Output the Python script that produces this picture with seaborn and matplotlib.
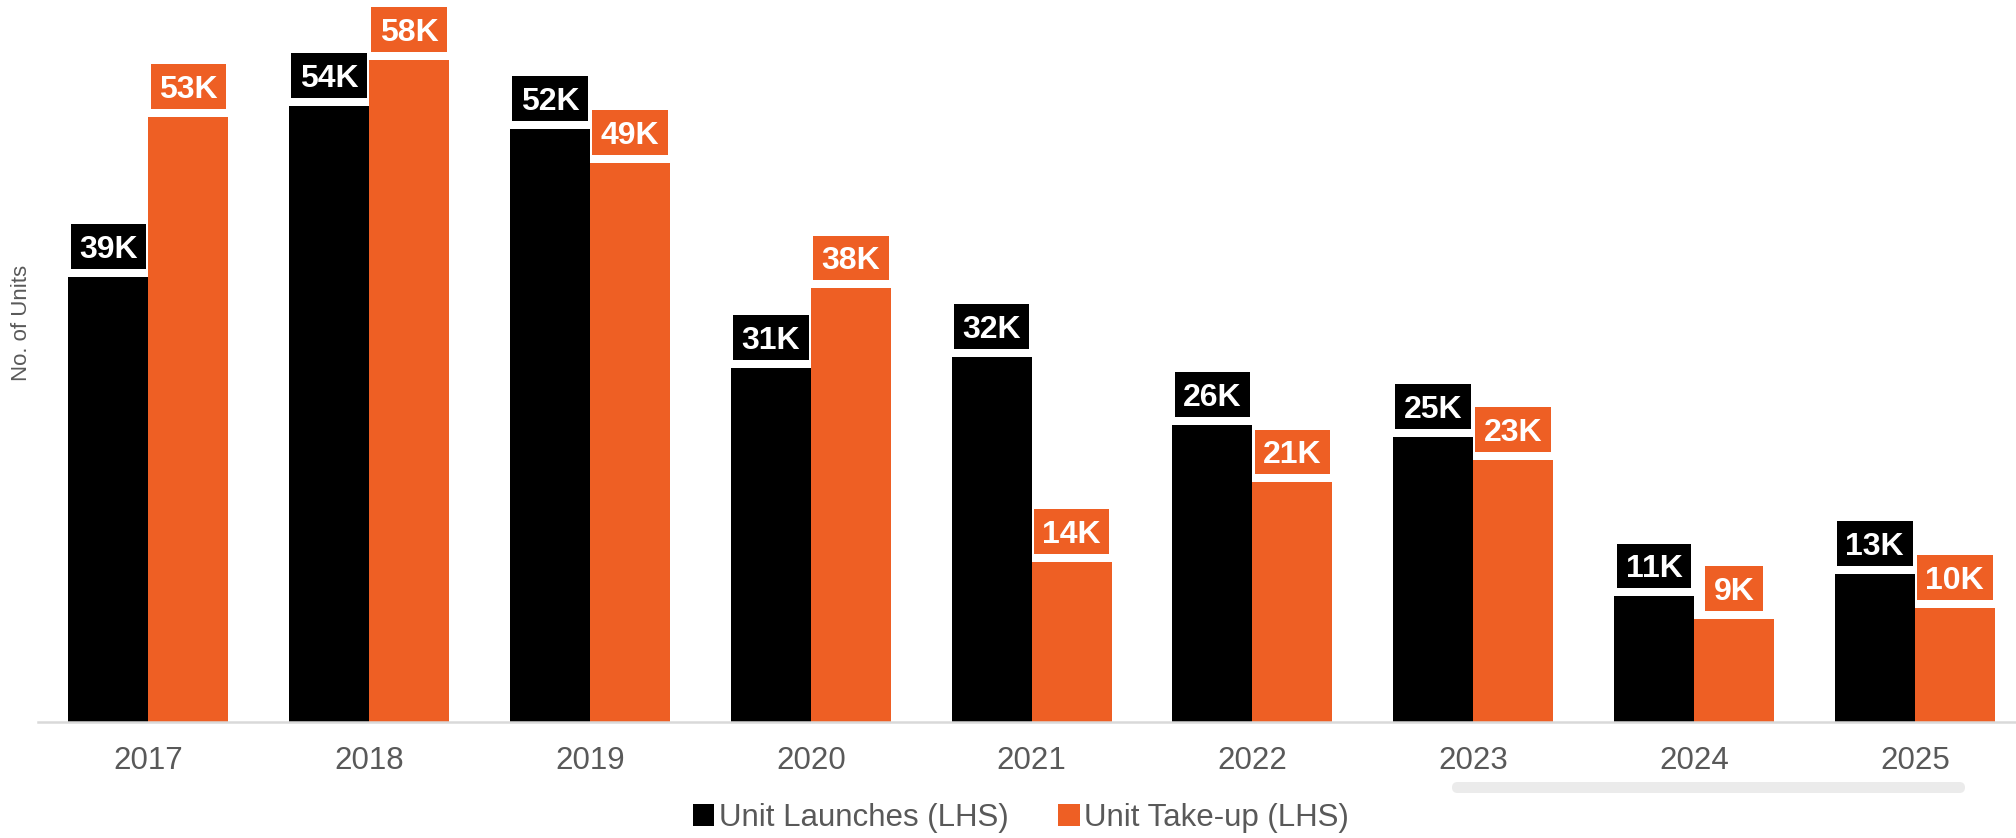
import matplotlib
matplotlib.use("Agg")
import matplotlib.pyplot as plt
from matplotlib.patches import Rectangle, FancyBboxPatch
from matplotlib.transforms import IdentityTransform
import pandas as pd
import seaborn as sns

# ---- data -------------------------------------------------------------
years = ["2017", "2018", "2019", "2020", "2021", "2022", "2023", "2024", "2025"]
launches = [39000, 54000, 52000, 31000, 32000, 26000, 25000, 11000, 13000]
takeup = [53000, 58000, 49000, 38000, 14000, 21000, 23000, 9000, 10000]
series_names = ["Unit Launches (LHS)", "Unit Take-up (LHS)"]
series_colors = ["#000000", "#EE5F24"]

df = pd.DataFrame({
    "year": years * 2,
    "value": launches + takeup,
    "series": [series_names[0]] * len(years) + [series_names[1]] * len(years),
})

# ---- style ------------------------------------------------------------
sns.set_style("white")
plt.rcParams["font.family"] = ["Liberation Sans", "DejaVu Sans"]
GREY_TEXT = "#595959"

W, H, DPI = 2016, 838, 100
fig = plt.figure(figsize=(W / DPI, H / DPI), dpi=DPI)

# plot area in pixels: x axis at 722 px from top, groups 220.8 px apart
base_px = 722
left_px = 38
group_px = 220.8
ax = fig.add_axes([left_px / W, (H - base_px) / H, 9 * group_px / W, base_px / H])

sns.barplot(data=df, x="year", y="value", hue="series", palette=series_colors,
            width=0.725, gap=0, dodge=True, linewidth=0, saturation=1,
            ax=ax)

ax.set_xlim(-0.5, 8.5)
px_per_unit = 11.41 / 1000
ax.set_ylim(0, base_px / px_per_unit)

for side in ("left", "right", "top"):
    ax.spines[side].set_visible(False)
ax.spines["bottom"].set_color("#d9d9d9")
ax.spines["bottom"].set_linewidth(1.8)
ax.set_yticks([])
ax.set_xlabel("")
ax.tick_params(axis="x", length=0, pad=17, labelsize=22.5, labelcolor=GREY_TEXT)

ax.set_ylabel("No. of Units", fontsize=16, color=GREY_TEXT)
ax.yaxis.set_label_coords((22 - left_px) / (9 * group_px), (base_px - 323) / base_px)
ax.yaxis.label.set_verticalalignment("center")

# ---- legend -----------------------------------------------------------
handles, labels = ax.get_legend_handles_labels()
ax.get_legend().remove()
fig.legend(handles, labels, loc="center", bbox_to_anchor=(1021 / W, 1 - 818 / H),
           ncol=2, frameon=False, fontsize=22.5, labelcolor=GREY_TEXT,
           handlelength=0.68, handleheight=0.68, handletextpad=0.15,
           columnspacing=1.6, borderpad=0)

# ---- value labels in filled boxes above each bar ----------------------
label_fs = 23
fs_px = label_fs * DPI / 72
cap_px = 0.716 * fs_px
gap_px, vpad_px, hpad_px = 8, 11, 8.5

texts = []
for container, values, color in zip(ax.containers, [launches, takeup], series_colors):
    for bar, val in zip(container.patches, values):
        xc = bar.get_x() + bar.get_width() / 2
        top = bar.get_height()
        off_pts = (gap_px + vpad_px) * 72 / DPI
        t = ax.annotate(f"{val // 1000}K", xy=(xc, top), xytext=(0, off_pts),
                        textcoords="offset points", ha="center", va="baseline",
                        color="white", fontweight="bold", fontsize=label_fs,
                        zorder=6, annotation_clip=False)
        texts.append((t, xc, top, color))

fig.canvas.draw()
renderer = fig.canvas.get_renderer()
for t, xc, top, color in texts:
    bb = t.get_window_extent(renderer)
    _, ytop = ax.transData.transform((xc, top))
    y0 = ytop + gap_px
    rect = Rectangle((bb.x0 - hpad_px, y0), bb.width + 2 * hpad_px,
                     cap_px + 2 * vpad_px, transform=IdentityTransform(),
                     facecolor=color, edgecolor="none", zorder=5,
                     clip_on=False)
    ax.add_artist(rect)

# light rounded scroll track under the right-hand years
track = FancyBboxPatch((1452, H - 793), 513, 11,
                       boxstyle="round,pad=0,rounding_size=5.5",
                       transform=IdentityTransform(), facecolor="#ebebeb",
                       edgecolor="none")
fig.add_artist(track)

fig.savefig("out.png", dpi=DPI, facecolor="white")
